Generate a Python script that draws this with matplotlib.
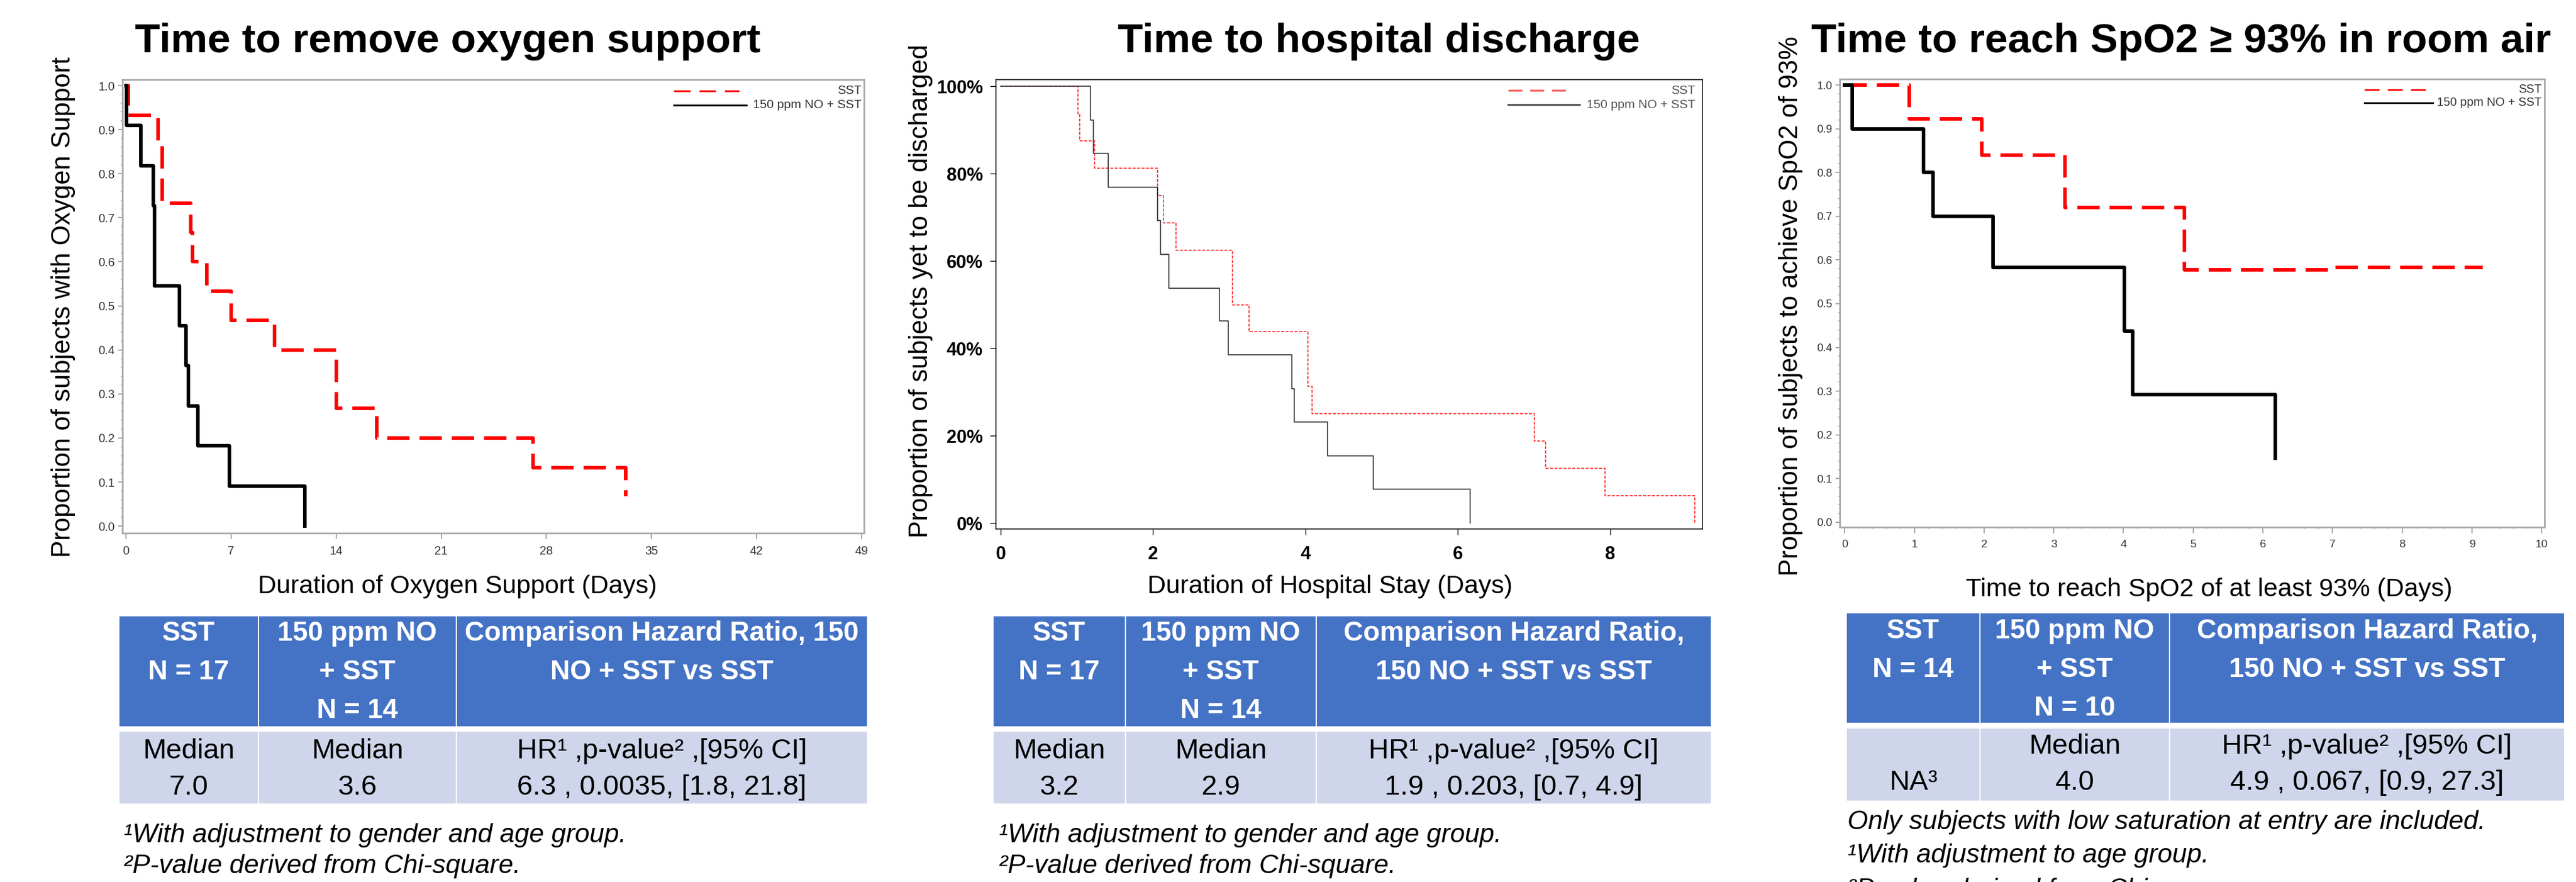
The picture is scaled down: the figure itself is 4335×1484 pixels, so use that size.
import matplotlib
matplotlib.use("Agg")
import numpy as np
import matplotlib.pyplot as plt
from matplotlib.patches import Rectangle
from matplotlib.lines import Line2D
from matplotlib.ticker import MultipleLocator, FuncFormatter

W, H = 4335, 1484
SANS = ["Liberation Sans", "DejaVu Sans"]

# ---- Kaplan-Meier steps (time, proportion) ----
# panel 1: time to remove oxygen support
o2_sst_t = [0, 0.15, 2.15, 2.4, 4.3, 4.45, 5.4, 7.0, 9.9, 14.0, 16.7, 27.1, 33.3]
o2_sst_s = [1.0, 0.933, 0.867, 0.733, 0.667, 0.6, 0.533, 0.467, 0.4, 0.267, 0.2, 0.133, 0.067]
o2_no_t = [0, 0.05, 1.0, 1.82, 1.9, 3.56, 4.0, 4.17, 4.77, 6.9, 11.93]
o2_no_s = [1.0, 0.909, 0.818, 0.727, 0.545, 0.455, 0.364, 0.273, 0.182, 0.091, 0.0]

# panel 2: time to hospital discharge
hd_sst_t = [0, 1.016, 1.04, 1.23, 2.06, 2.14, 2.30, 3.04, 3.26, 4.03, 4.085, 7.0, 7.15, 7.93, 9.11]
hd_sst_s = [1.0, 0.9375, 0.875, 0.8125, 0.75, 0.6875, 0.625, 0.5, 0.4375, 0.3125, 0.25, 0.1875, 0.125, 0.0625, 0.0]
hd_no_t = [0, 1.18, 1.22, 1.41, 2.06, 2.10, 2.21, 2.87, 2.99, 3.82, 3.85, 4.29, 4.89, 6.16]
hd_no_s = [1.0, 0.923, 0.846, 0.769, 0.692, 0.615, 0.538, 0.462, 0.385, 0.308, 0.231, 0.154, 0.077, 0.0]

# panel 3: time to reach SpO2 >= 93% in room air
sp_sst_t = [0, 0.93, 1.97, 3.16, 4.87, 7.04, 9.15]
sp_sst_s = [1.0, 0.923, 0.839, 0.72, 0.577, 0.583, 0.583]
sp_no_t = [0, 0.11, 1.13, 1.27, 2.13, 4.01, 4.13, 6.18]
sp_no_s = [1.0, 0.9, 0.8, 0.7, 0.583, 0.4375, 0.292, 0.146]

legend_labels = ["SST", "150 ppm NO + SST"]

titles = ["Time to remove oxygen support", "Time to hospital discharge",
          "Time to reach SpO2 \u2265 93% in room air"]
ylabels = ["Proportion of subjects with Oxygen Support",
           "Proportion of subjects yet to be discharged",
           "Proportion of subjects to achieve SpO2 of 93%"]
xlabels = ["Duration of Oxygen Support (Days)", "Duration of Hospital Stay (Days)",
           "Time to reach SpO2 of at least 93% (Days)"]

# ---- summary tables ----
tab1_header = [["SST", "N = 17"], ["150 ppm NO", "+ SST", "N = 14"],
               ["Comparison Hazard Ratio, 150", "NO + SST vs SST"]]
tab1_body = [["Median", "7.0"], ["Median", "3.6"],
             ["HR\u00b9 ,p-value\u00b2 ,[95% CI]", "6.3 , 0.0035, [1.8, 21.8]"]]
tab2_header = [["SST", "N = 17"], ["150 ppm NO", "+ SST", "N = 14"],
               ["Comparison Hazard Ratio,", "150 NO + SST vs SST"]]
tab2_body = [["Median", "3.2"], ["Median", "2.9"],
             ["HR\u00b9 ,p-value\u00b2 ,[95% CI]", "1.9 , 0.203, [0.7, 4.9]"]]
tab3_header = [["SST", "N = 14"], ["150 ppm NO", "+ SST", "N = 10"],
               ["Comparison Hazard Ratio,", "150 NO + SST vs SST"]]
tab3_body = [["", "NA\u00b3"], ["Median", "4.0"],
             ["HR\u00b9 ,p-value\u00b2 ,[95% CI]", "4.9 , 0.067, [0.9, 27.3]"]]

notes1 = ["\u00b9With adjustment to gender and age group.", "\u00b2P-value derived from Chi-square."]
notes2 = ["\u00b9With adjustment to gender and age group.", "\u00b2P-value derived from Chi-square."]
notes3 = ["Only subjects with low saturation at entry are included.",
          "\u00b9With adjustment to age group.", "\u00b2P-value derived from Chi-square."]


def fx(px):
    return px / W


def fy(py):
    return 1 - py / H


fig = plt.figure(figsize=(W / 100, H / 100), dpi=100)


def add_ax(l, t, r, b):
    return fig.add_axes([fx(l), fy(b), (r - l) / W, (b - t) / H])


def legend_lines(x0, x1_red, x1_blk, y_red, y_blk, xr, red_kw, blk_kw, txt_kw):
    fig.add_artist(Line2D([fx(x0), fx(x1_red)], [fy(y_red)] * 2, transform=fig.transFigure, **red_kw))
    fig.add_artist(Line2D([fx(x0), fx(x1_blk)], [fy(y_blk)] * 2, transform=fig.transFigure, **blk_kw))
    fig.text(fx(xr), fy(y_red), legend_labels[0], ha="right", va="center", **txt_kw)
    fig.text(fx(xr), fy(y_blk), legend_labels[1], ha="right", va="center", **txt_kw)


def sas_style(ax, xmajor, xminor):
    for s in ax.spines.values():
        s.set_color("#a8a8a8")
        s.set_linewidth(2.0)
    ax.yaxis.set_major_locator(MultipleLocator(0.1))
    ax.yaxis.set_minor_locator(MultipleLocator(0.02))
    ax.yaxis.set_major_formatter(FuncFormatter(lambda v, p: f"{v:.1f}"))
    ax.xaxis.set_major_locator(MultipleLocator(xmajor))
    if xminor:
        ax.xaxis.set_minor_locator(MultipleLocator(xminor))
    ax.tick_params(which="major", direction="out", length=5, width=1.5, color="#a8a8a8",
                   labelcolor="#333333", labelsize=14.5)
    ax.tick_params(axis="x", which="major", length=7, pad=8)
    ax.tick_params(axis="y", which="major", pad=4)
    ax.tick_params(which="minor", direction="out", length=2.5, width=1.2, color="#b8b8b8")
    for lab in ax.get_xticklabels() + ax.get_yticklabels():
        lab.set_fontfamily(SANS)


# ---- panel 1 ----
ax1 = add_ax(206, 134, 1454, 897)
ax1.step(o2_sst_t, o2_sst_s, where="post", color="#ff0000", lw=4.3, linestyle=(0, (6.3, 2.8)))
ax1.step(o2_no_t, o2_no_s, where="post", color="black", lw=4.3)
ax1.set_xlim(-0.24, 49.16)
ax1.set_ylim(-0.016, 1.0135)
sas_style(ax1, 7, None)
legend_lines(1134, 1244, 1256, 153, 177, 1450,
             dict(color="#ff0000", lw=2.2, linestyle=(0, (9, 5))),
             dict(color="black", lw=2.2),
             dict(fontsize=15, color="#333333", family=SANS))

# ---- panel 2 ----
ax2 = add_ax(1676, 134, 2865, 890)
ax2.step(hd_sst_t, hd_sst_s, where="post", color="#ff2020", lw=1.2, linestyle=(0, (3, 1.5)))
ax2.step(hd_no_t, hd_no_s, where="post", color="#303030", lw=1.2)
ax2.set_xlim(-0.062, 9.21)
ax2.set_ylim(-0.0136, 1.015)
for s in ax2.spines.values():
    s.set_color("black")
    s.set_linewidth(1.1)
ax2.yaxis.set_major_locator(MultipleLocator(0.2))
ax2.yaxis.set_major_formatter(FuncFormatter(lambda v, p: f"{v * 100:.0f}%"))
ax2.set_xticks([0, 2, 4, 6, 8])
ax2.tick_params(direction="out", length=7, width=1.0, color="black", labelsize=22)
ax2.tick_params(axis="x", pad=13)
ax2.tick_params(axis="y", pad=9)
for lab in ax2.get_xticklabels() + ax2.get_yticklabels():
    lab.set_fontfamily(SANS)
    lab.set_fontweight("bold")
legend_lines(2538, 2647, 2658, 152, 176, 2853,
             dict(color="#ff6060", lw=2.4, linestyle=(0, (7, 4))),
             dict(color="#555555", lw=2.4),
             dict(fontsize=15, color="#555555", family=SANS))

# ---- panel 3 ----
ax3 = add_ax(3096, 133, 4282, 887)
ax3.step(sp_sst_t, sp_sst_s, where="post", color="#ff0000", lw=4.3, linestyle=(0, (6.3, 2.8)))
ax3.step(sp_no_t, sp_no_s, where="post", color="black", lw=4.3)
ax3.set_xlim(-0.07, 10.04)
ax3.set_ylim(-0.011, 1.0136)
sas_style(ax3, 1, 0.2)
ax3.tick_params(labelsize=13.5)
legend_lines(3979, 4082, 4094, 151, 173, 4277,
             dict(color="#ff0000", lw=2.0, linestyle=(0, (9, 5))),
             dict(color="black", lw=2.0),
             dict(fontsize=14.5, color="#333333", family=SANS))

# ---- titles and axis labels ----
for cx, t in zip([753, 2320, 3670], titles):
    fig.text(fx(cx), fy(88), t, ha="center", va="baseline", fontsize=50,
             fontweight="bold", family=SANS)
for (cx, cy), t in zip([(107, 517), (1550, 490), (3013, 515)], ylabels):
    fig.text(fx(cx), fy(cy), t, rotation=90, ha="center", va="center", fontsize=31.5, family=SANS)
for (cx, cy), t in zip([(770, 987), (2238, 987), (3717, 992)], xlabels):
    fig.text(fx(cx), fy(cy), t, ha="center", va="center", fontsize=31, family=SANS)


# ---- tables ----
def draw_table(xe, top, hdr_bot, body_top, bot, header, body, txt_top, body_txt):
    for c in range(3):
        x0, x1 = xe[c], xe[c + 1]
        fig.add_artist(Rectangle((fx(x0), fy(hdr_bot)), (x1 - x0) / W, (hdr_bot - top) / H,
                                 facecolor="#4472C4", edgecolor="white", lw=1.5,
                                 transform=fig.transFigure))
        fig.add_artist(Rectangle((fx(x0), fy(bot)), (x1 - x0) / W, (bot - body_top) / H,
                                 facecolor="#CFD5EA", edgecolor="white", lw=1.5,
                                 transform=fig.transFigure))
        cx = (x0 + x1) / 2
        for i, line in enumerate(header[c]):
            fig.text(fx(cx), fy(txt_top + 65 * i), line, ha="center", va="center",
                     color="white", fontweight="bold", fontsize=33, family=SANS)
        for i, line in enumerate(body[c]):
            fig.text(fx(cx), fy(body_txt + 61 * i), line, ha="center", va="center",
                     color="black", fontsize=34, family=SANS)


draw_table([200, 435, 768, 1460], 1036, 1223, 1230, 1353, tab1_header, tab1_body, 1066, 1264)
draw_table([1671, 1894, 2215, 2880], 1036, 1223, 1230, 1353, tab2_header, tab2_body, 1066, 1264)
draw_table([3107, 3332, 3651, 4316], 1031, 1217, 1225, 1348, tab3_header, tab3_body, 1062, 1256)

for i, t in enumerate(notes1):
    fig.text(fx(208), fy(1406 + 51 * i), t, ha="left", va="center", style="italic",
             fontsize=32, family=SANS)
for i, t in enumerate(notes2):
    fig.text(fx(1681), fy(1406 + 51 * i), t, ha="left", va="center", style="italic",
             fontsize=32, family=SANS)
for i, t in enumerate(notes3):
    fig.text(fx(3109), fy(1383 + 57 * i), t, ha="left", va="center", style="italic",
             fontsize=32, family=SANS)

fig.savefig("out.png", dpi=100)
